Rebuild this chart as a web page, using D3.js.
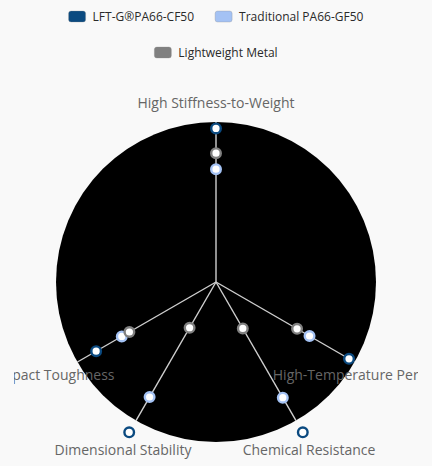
<!DOCTYPE html>
<html>
<head>
<meta charset="utf-8">
<script src="https://cdn.jsdelivr.net/npm/d3@7"></script>
<style>
  html, body { margin: 0; padding: 0; background: #f9f9f9; }
  svg { display: block; }
</style>
</head>
<body>
<svg id="chart" width="432" height="466"></svg>
<script>
// ---- data ----
const axes = ["High Stiffness-to-Weight", "High-Temperature Performance", "Chemical Resistance", "Dimensional Stability", "Impact Toughness"];
const seriesNames = ["LFT-G\u00AEPA66-CF50", "Traditional PA66-GF50", "Lightweight Metal"];
const lftValues = [9.6, 9.6, 10.85, 10.85, 8.65];
const traditionalValues = [7.05, 6.75, 8.35, 8.3, 6.8];
const metalValues = [8.05, 5.85, 3.35, 3.3, 6.25];
const scaleMax = 10;

const colors = ["#0b4a80", "#a4c2f4", "#808080"];
const seriesValues = [lftValues, traditionalValues, metalValues];

// ---- layout ----
const svg = d3.select("#chart");
const W = 432;
const cx = 216, cy = 282, R = 160;
const axisAngleDeg = [-90, 30, 60, 120, 150];
const angle = d3.scaleOrdinal().domain(axes).range(axisAngleDeg.map(d => d * Math.PI / 180));
const r = d3.scaleLinear().domain([0, scaleMax]).range([0, R]);

// legend
const legendRows = [[0, 1], [2]];
const legend = svg.append("g").attr("class", "legend");
const lf = { family: "'Open Sans', sans-serif", size: 12, weight: 500 };
legendRows.forEach((row, ri) => {
  const y = 17 + ri * 36;
  const items = row.map(i => {
    const t = legend.append("text").attr("font-family", lf.family).attr("font-size", lf.size).attr("font-weight", lf.weight).text(seriesNames[i]);
    const w = t.node().getComputedTextLength();
    t.remove();
    return { i, w };
  });
  const itemW = items.map(d => 17 + 7 + d.w);
  const gap = 21;
  const total = d3.sum(itemW) + gap * (items.length - 1);
  let x = W / 2 - total / 2;
  items.forEach((d, k) => {
    legend.append("rect").attr("x", x).attr("y", y - 6).attr("width", 17).attr("height", 11)
      .attr("rx", 2.5).attr("fill", colors[d.i]).attr("stroke", "#888").attr("stroke-width", 0.3);
    legend.append("text").attr("x", x + 24).attr("y", y + 4.3)
      .attr("font-family", lf.family).attr("font-size", lf.size).attr("font-weight", lf.weight)
      .attr("fill", "#2a2a2a").text(seriesNames[d.i]);
    x += itemW[k] + gap;
  });
});

// chart group with clipping
svg.append("clipPath").attr("id", "clip").append("rect").attr("x", 14).attr("y", 70).attr("width", 404).attr("height", 396);
const g = svg.append("g").attr("clip-path", "url(#clip)");
const c = g.append("g").attr("transform", `translate(${cx},${cy})`);

c.append("circle").attr("r", r(scaleMax)).attr("fill", "#000");

c.selectAll("line.axis").data(axes).join("line").attr("class", "axis")
  .attr("x1", 0).attr("y1", 0)
  .attr("x2", d => r(scaleMax) * Math.cos(angle(d)))
  .attr("y2", d => r(scaleMax) * Math.sin(angle(d)))
  .attr("stroke", "#cfcfcf").attr("stroke-width", 1.4);

const labelR = 186;
c.selectAll("text.lab").data(axes).join("text").attr("class", "lab")
  .attr("x", d => labelR * Math.cos(angle(d)))
  .attr("y", d => labelR * Math.sin(angle(d)) + (Math.abs(Math.sin(angle(d))) > 0.7 ? 7 : 0))
  .attr("dy", "0.35em")
  .attr("text-anchor", "middle")
  .attr("font-family", "'Open Sans', sans-serif").attr("font-size", 14)
  .attr("fill", "#666").text(d => d);

// points
seriesValues.forEach((vals, si) => {
  c.append("g").selectAll("circle").data(vals).join("circle")
    .attr("cx", (v, i) => r(v) * Math.cos(angle(axes[i])))
    .attr("cy", (v, i) => r(v) * Math.sin(angle(axes[i])))
    .attr("r", 4.8)
    .attr("fill", "#fff")
    .attr("stroke", colors[si])
    .attr("stroke-width", 2.4);
});
</script>
</body>
</html>
